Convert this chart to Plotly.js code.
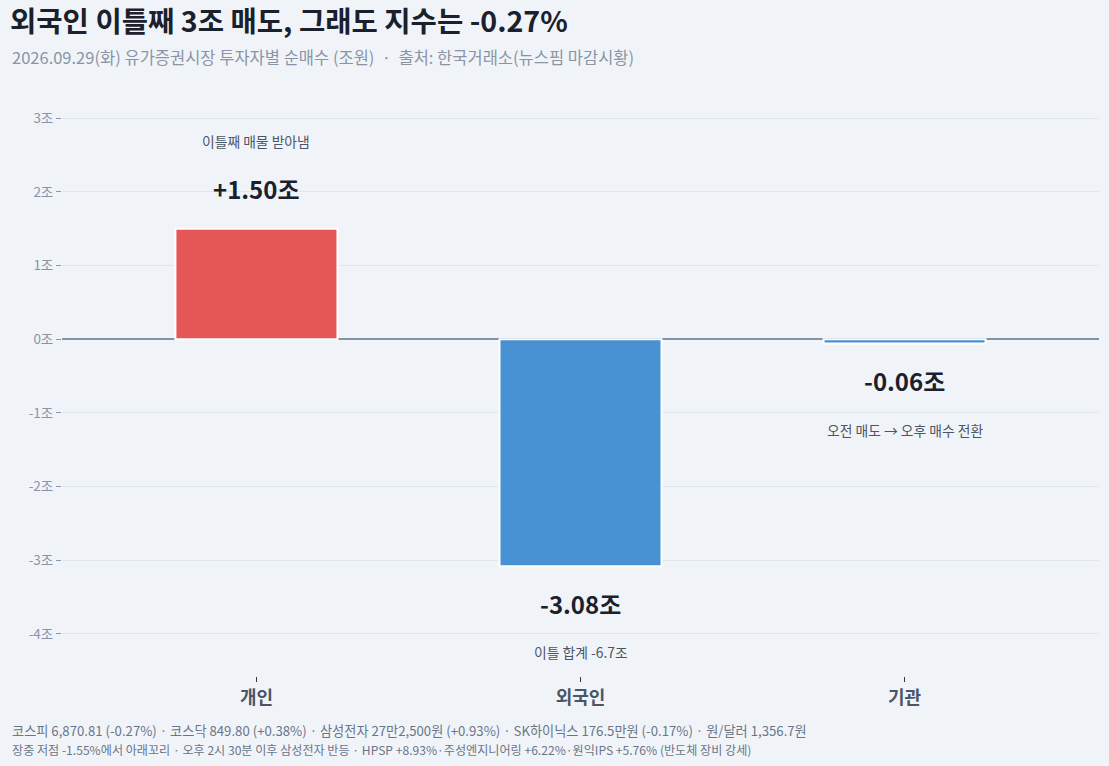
<!DOCTYPE html>
<html>
<head>
<meta charset="utf-8">
<script src="https://cdn.plot.ly/plotly-3.0.1.min.js"></script>
<style>
  html, body { margin: 0; padding: 0; background: #f0f4f8; }
  #chart { width: 1109px; height: 766px; }
</style>
</head>
<body>
<div id="chart"></div>
<script>
// 투자자별 순매수 (조원)
var investors = ['개인', '외국인', '기관'];
var netBuy = [1.50, -3.08, -0.06];
var valueLabels = ['+1.50조', '-3.08조', '-0.06조'];
var notes = ['이틀째 매물 받아냄', '이틀 합계 -6.7조', '오전 매도 → 오후 매수 전환'];
var barColors = ['#e55656', '#4891d2', '#4891d2'];
var yTicks = [-4, -3, -2, -1, 0, 1, 2, 3];

var titleText = '외국인 이틀째 3조 매도, 그래도 지수는 -0.27%';
var subtitleText = '2026.09.29(화) 유가증권시장 투자자별 순매수 (조원)  ·  출처: 한국거래소(뉴스핌 마감시황)';
var footer1 = '코스피 6,870.81 (-0.27%) · 코스닥 849.80 (+0.38%) · 삼성전자 27만2,500원 (+0.93%) · SK하이닉스 176.5만원 (-0.17%) · 원/달러 1,356.7원';
var footer2 = '장중 저점 -1.55%에서 아래꼬리 · 오후 2시 30분 이후 삼성전자 반등 · HPSP +8.93%·주성엔지니어링 +6.22%·원익IPS +5.76% (반도체 장비 강세)';

var font = 'Noto Sans CJK KR, Noto Sans, sans-serif';

var data = [
    {
        type: 'bar',
        x: investors,
        y: netBuy,
        width: 0.5,
        marker: {color: barColors, line: {color: '#ffffff', width: 2}},
        hoverinfo: 'skip'
    }
];

var annotations = [];
for (var i = 0; i < investors.length; i++) {
    var up = netBuy[i] >= 0;
    annotations.push({
        x: investors[i], y: netBuy[i], xref: 'x', yref: 'y',
        text: '<b>' + valueLabels[i] + '</b>', showarrow: false,
        yshift: up ? 40 : -37,
        font: {family: font, size: 24, color: '#1a202c'}
    });
    annotations.push({
        x: investors[i], y: netBuy[i], xref: 'x', yref: 'y',
        text: notes[i], showarrow: false,
        yshift: up ? 88 : -86,
        font: {family: font, size: 13.8, color: '#4a5568'}
    });
}

annotations.push({
    xref: 'paper', yref: 'paper', x: -0.0501, y: 1.0, yshift: 39,
    xanchor: 'left', yanchor: 'middle', showarrow: false,
    text: subtitleText, font: {family: font, size: 16.5, color: '#8a94a6'}
});
annotations.push({
    xref: 'paper', yref: 'paper', x: -0.0501, y: 0, yshift: -54,
    xanchor: 'left', yanchor: 'middle', showarrow: false,
    text: footer1, font: {family: font, size: 13.2, color: '#6b7588'}
});
annotations.push({
    xref: 'paper', yref: 'paper', x: -0.0501, y: 0, yshift: -73,
    xanchor: 'left', yanchor: 'middle', showarrow: false,
    text: footer2, font: {family: font, size: 12.1, color: '#6b7588'}
});

var layout = {
    width: 1109,
    height: 766,
    paper_bgcolor: '#f0f4f8',
    plot_bgcolor: '#f0f4f8',
    margin: {l: 62, r: 10, t: 96, b: 90},
    showlegend: false,
    title: {
        text: '<b>' + titleText + '</b>',
        xref: 'container', yref: 'container',
        x: 10 / 1109, xanchor: 'left',
        y: 1 - 22 / 766, yanchor: 'middle',
        font: {family: font, size: 28.6, color: '#1a202c'}
    },
    xaxis: {
        range: [-0.6, 2.6],
        showgrid: false,
        zeroline: false,
        showline: false,
        ticks: 'outside',
        ticklen: 5,
        tickcolor: '#2d3748',
        tickfont: {family: font, size: 18, weight: 'bold', color: '#4a5568'}
    },
    yaxis: {
        range: [-4.57, 3.3],
        tickvals: yTicks,
        ticktext: yTicks.map(function(v) { return v + '조'; }),
        ticks: 'outside',
        ticklen: 5,
        tickcolor: '#8a94a6',
        tickfont: {family: font, size: 13.5, color: '#8a94a6'},
        gridcolor: '#e0e6ed',
        gridwidth: 1,
        zeroline: true,
        zerolinecolor: '#8492a6',
        zerolinewidth: 2,
        showline: false
    },
    annotations: annotations
};

Plotly.newPlot('chart', data, layout, {displayModeBar: false});
</script>
</body>
</html>
